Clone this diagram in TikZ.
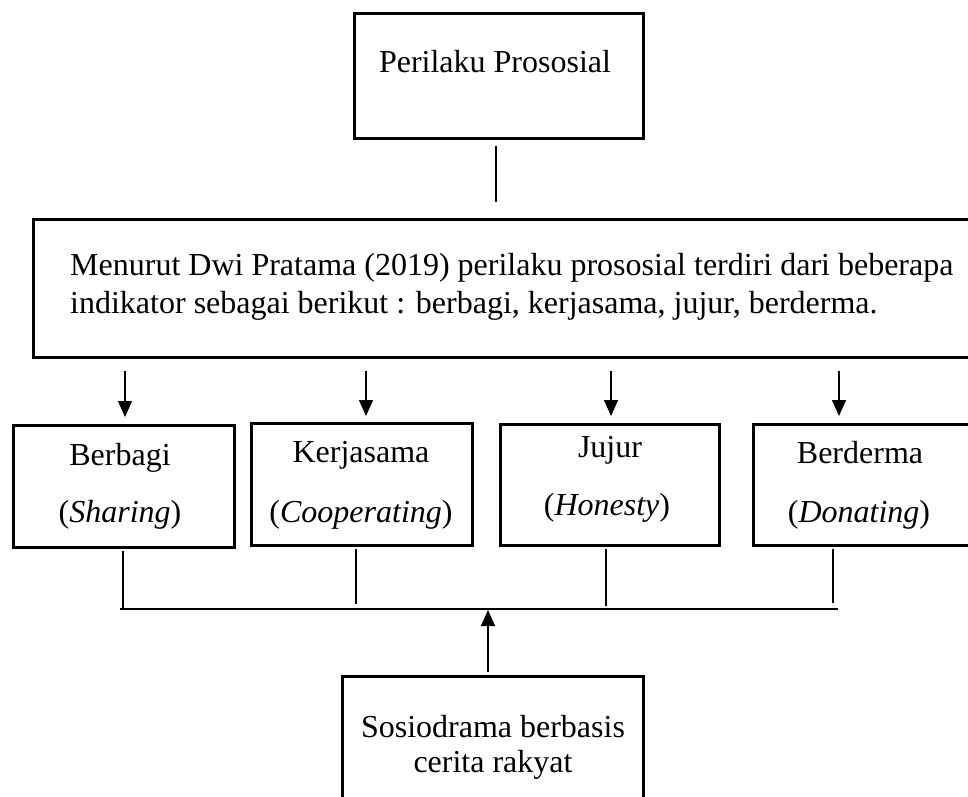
\documentclass[tikz,border=0pt]{standalone}
\usepackage{fontspec}
\setmainfont{Liberation Serif}
\usetikzlibrary{arrows.meta}
\newcommand\myfontsz{\fontsize{32}{38}\selectfont}
\tikzset{
  boxnode/.style={draw=black, line width=2.5pt, inner sep=0pt, anchor=north west},
  txt/.style={font=\myfontsz, inner sep=0pt, anchor=base},
  conn/.style={draw=black, line width=1.2pt},
  arr/.style={draw=black, line width=1.2pt, -{Triangle[length=16pt,width=14pt]}}
}
\begin{document}
\begin{tikzpicture}[x=1pt,y=-1pt]
\useasboundingbox (0,0) rectangle (968,796);
\clip (0,0) rectangle (968,796);
% boxes
\node[boxnode, minimum width=289pt, minimum height=125pt] (top) at (353,12) {};
\node[boxnode, minimum width=980pt, minimum height=138pt] (big) at (32,218) {};
\node[boxnode, minimum width=221pt, minimum height=122pt] (b1) at (12,424) {};
\node[boxnode, minimum width=221pt, minimum height=122pt] (b2) at (250,422) {};
\node[boxnode, minimum width=219pt, minimum height=121pt] (b3) at (499,423) {};
\node[boxnode, minimum width=240pt, minimum height=121pt] (b4) at (752,423) {};
\node[boxnode, minimum width=301pt, minimum height=140pt] (bot) at (341,675) {};
% texts
\node[txt] (ttop) at (495,72) {Perilaku Prososial};
\node[txt, anchor=base west] (m1) at (70,275) {Menurut Dwi Pratama (2019) perilaku prososial terdiri dari beberapa};
\node[txt, anchor=base west] (m2) at (70,313) {indikator sebagai berikut : berbagi, kerjasama, jujur, berderma.};
\node[txt] (b1a) at (120,465) {Berbagi};
\node[txt] (b1b) at (120,522) {(\textit{Sharing})};
\node[txt] (b2a) at (361,462) {Kerjasama};
\node[txt] (b2b) at (361,522) {(\textit{Cooperating})};
\node[txt] (b3a) at (610,457) {Jujur};
\node[txt] (b3b) at (607,515) {(\textit{Honesty})};
\node[txt] (b4a) at (860,463) {Berderma};
\node[txt] (b4b) at (859,522) {(\textit{Donating})};
\node[txt] (bta) at (493,737) {Sosiodrama berbasis};
\node[txt] (btb) at (493,772) {cerita rakyat};
% connector coordinates
\coordinate (a1) at (125,371);
\coordinate (a2) at (366,371);
\coordinate (a3) at (611,371);
\coordinate (a4) at (839,371);
\coordinate (v1) at (123,609);
\coordinate (v2) at (356,604);
\coordinate (v3) at (606,606);
\coordinate (v4) at (833,603);
\coordinate (h1) at (120,609);
\coordinate (h2) at (838,609);
\coordinate (up) at (488,610);
% connectors
\draw[conn, shorten <=6pt, shorten >=16pt] (top.south -| 496,0) -- (big.north -| 496,0);
\draw[arr, shorten >=7pt] (a1) -- (a1 |- b1.north);
\draw[arr, shorten >=6pt] (a2) -- (a2 |- b2.north);
\draw[arr, shorten >=7pt] (a3) -- (a3 |- b3.north);
\draw[arr, shorten >=7pt] (a4) -- (a4 |- b4.north);
\draw[conn, shorten <=2pt] (b1.south -| v1) -- (v1);
\draw[conn, shorten <=2pt] (b2.south -| v2) -- (v2);
\draw[conn, shorten <=2pt] (b3.south -| v3) -- (v3);
\draw[conn, shorten <=2pt] (b4.south -| v4) -- (v4);
\draw[conn, line width=1.8pt] (h1) -- (h2);
\draw[arr, shorten <=3pt] (bot.north -| up) -- (up);
\end{tikzpicture}
\end{document}
